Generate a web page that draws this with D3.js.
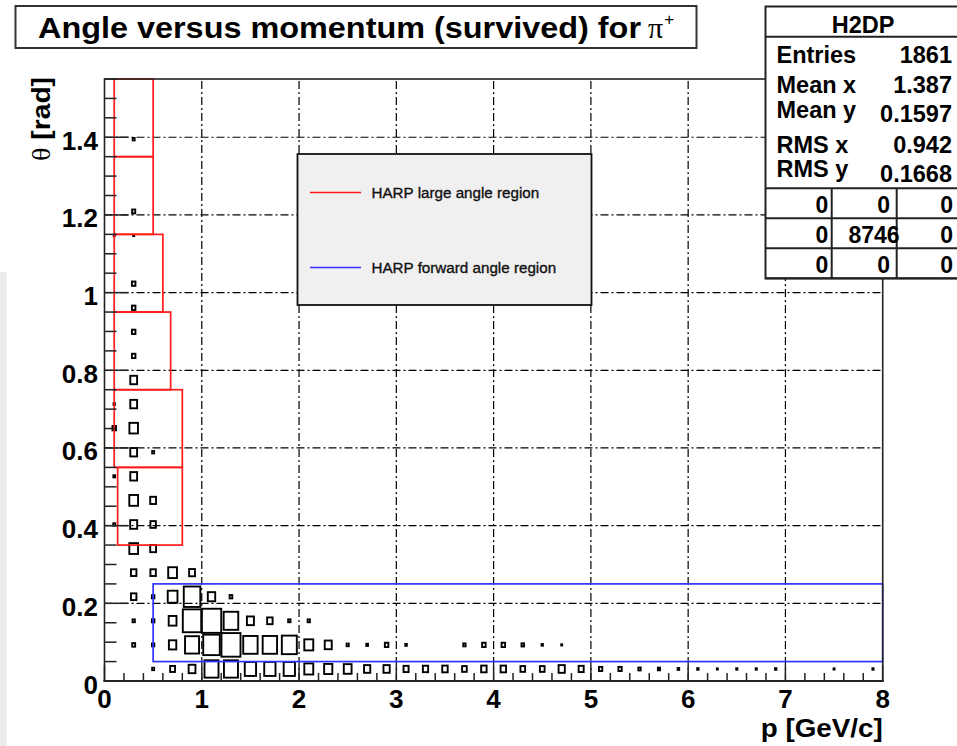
<!DOCTYPE html>
<html>
<head>
<meta charset="utf-8">
<script src="https://cdn.jsdelivr.net/npm/d3@7"></script>
<style>
  body { margin: 0; background: #ffffff; }
  svg { display: block; font-family: "Liberation Sans", Arial, Helvetica, sans-serif; }
</style>
</head>
<body>
<svg id="chart"></svg>
<script>
//DATA//
var xTicks = [0, 1, 2, 3, 4, 5, 6, 7, 8];
var yTicks = [0, 0.2, 0.4, 0.6, 0.8, 1.0, 1.2, 1.4];
var yTickLabels = ["0", "0.2", "0.4", "0.6", "0.8", "1", "1.2", "1.4"];
var pBinWidth = 0.2;
var thetaBinWidth = 0.062;

// [p bin centre, theta bin centre, content]
var cells = [
  // theta 0.031
  [0.5, 0.031, 10], [0.7, 0.031, 25], [0.9, 0.031, 35], [1.1, 0.031, 72], [1.3, 0.031, 72],
  [1.5, 0.031, 58], [1.7, 0.031, 58], [1.9, 0.031, 58], [2.1, 0.031, 46], [2.3, 0.031, 42],
  [2.5, 0.031, 40], [2.7, 0.031, 32], [2.9, 0.031, 32], [3.1, 0.031, 26], [3.3, 0.031, 27],
  [3.5, 0.031, 28], [3.7, 0.031, 24], [3.9, 0.031, 28], [4.1, 0.031, 28], [4.3, 0.031, 24],
  [4.5, 0.031, 24], [4.7, 0.031, 32], [4.9, 0.031, 26], [5.1, 0.031, 17], [5.3, 0.031, 17],
  [5.5, 0.031, 12], [5.7, 0.031, 11], [5.9, 0.031, 8], [6.1, 0.031, 7], [6.3, 0.031, 5],
  [6.5, 0.031, 6], [6.7, 0.031, 6], [6.9, 0.031, 7], [7.5, 0.031, 5], [7.9, 0.031, 6],
  // theta 0.093
  [0.3, 0.093, 15], [0.5, 0.093, 12], [0.7, 0.093, 38], [0.9, 0.093, 72], [1.1, 0.093, 85],
  [1.3, 0.093, 98], [1.5, 0.093, 74], [1.7, 0.093, 74], [1.9, 0.093, 77], [2.1, 0.093, 46],
  [2.3, 0.093, 36], [2.5, 0.093, 11], [2.7, 0.093, 9], [2.9, 0.093, 18], [3.1, 0.093, 8],
  [3.7, 0.093, 12], [3.9, 0.093, 18], [4.1, 0.093, 18], [4.3, 0.093, 13], [4.5, 0.093, 7],
  [4.7, 0.093, 5],
  // theta 0.155
  [0.3, 0.155, 12], [0.5, 0.155, 13], [0.7, 0.155, 40], [0.9, 0.155, 95], [1.1, 0.155, 100],
  [1.3, 0.155, 75], [1.5, 0.155, 36], [1.7, 0.155, 28], [1.9, 0.155, 12], [2.1, 0.155, 12],
  // theta 0.217
  [0.3, 0.217, 28], [0.5, 0.217, 13], [0.7, 0.217, 50], [0.9, 0.217, 85], [1.1, 0.217, 38],
  [1.3, 0.217, 14],
  // theta 0.279
  [0.3, 0.279, 28], [0.5, 0.279, 28], [0.7, 0.279, 45], [0.9, 0.279, 30],
  // theta 0.341 .. 0.775
  [0.3, 0.341, 45], [0.5, 0.341, 30],
  [0.1, 0.403, 10], [0.3, 0.403, 36], [0.5, 0.403, 28],
  [0.3, 0.465, 45], [0.5, 0.465, 30],
  [0.1, 0.527, 9], [0.3, 0.527, 35],
  [0.3, 0.589, 35], [0.5, 0.589, 10],
  [0.1, 0.651, 18], [0.3, 0.651, 44],
  [0.1, 0.713, 7], [0.3, 0.713, 35],
  [0.3, 0.775, 35],
  // theta 0.837 .. 1.395
  [0.3, 0.837, 18], [0.3, 0.899, 18], [0.3, 0.961, 18], [0.3, 1.023, 18],
  [0.1, 1.147, 5], [0.3, 1.147, 5], [0.3, 1.209, 16], [0.3, 1.395, 10]
];

// HARP large angle region: [pMin, pMax, thetaMin, thetaMax]
var largeAngleRegions = [
  [0.1, 0.5, 1.35, 1.55],
  [0.1, 0.5, 1.15, 1.35],
  [0.1, 0.6, 0.95, 1.15],
  [0.1, 0.68, 0.75, 0.95],
  [0.1, 0.8, 0.55, 0.75],
  [0.135, 0.8, 0.35, 0.55]
];
// HARP forward angle region
var forwardRegion = [0.5, 8, 0.05, 0.25];

var legendNames = ["HARP large angle region", "HARP forward angle region"];
var legendColors = ["#ff1a1a", "#3333ff"];

var statsLabels = ["Entries", "Mean x", "Mean y", "RMS x", "RMS y"];
var statsValues = ["1861", "1.387", "0.1597", "0.942", "0.1668"];
var overflowTable = [
  ["0", "0", "0"],
  ["0", "8746", "0"],
  ["0", "0", "0"]
];

//CHART//
var screen = { width: 957, height: 746 };
var svg = d3.select("#chart").attr("width", screen.width).attr("height", screen.height);

// light strip on the left edge of the reference picture
svg.append("rect").attr("x", 0).attr("y", 272).attr("width", 7).attr("height", 474).attr("fill", "#ebebeb");

var xScale = d3.scaleLinear().domain([0, 8]).range([104.5, 882.7]);
var yScale = d3.scaleLinear().domain([0, 1.55]).range([681, 79]);

var gridDash = "8,3,2,3";

// grid
var grid = svg.append("g").attr("class", "grid");
grid.selectAll("line.gx")
  .data(xTicks.slice(1, -1))
  .enter().append("line")
  .attr("x1", function (d) { return xScale(d); })
  .attr("x2", function (d) { return xScale(d); })
  .attr("y1", yScale(0)).attr("y2", yScale(1.55))
  .attr("stroke", "#000").attr("stroke-width", 1.2)
  .attr("stroke-dasharray", gridDash);
grid.selectAll("line.gy")
  .data(yTicks.slice(1))
  .enter().append("line")
  .attr("y1", function (d) { return yScale(d); })
  .attr("y2", function (d) { return yScale(d); })
  .attr("x1", xScale(0)).attr("x2", xScale(8))
  .attr("stroke", "#000").attr("stroke-width", 1.2)
  .attr("stroke-dasharray", gridDash);

// boxes
var maxCount = d3.max(cells, function (c) { return c[2]; });
var binW = xScale(pBinWidth) - xScale(0);
var binH = yScale(0) - yScale(thetaBinWidth);
svg.append("g").selectAll("rect")
  .data(cells)
  .enter().append("rect")
  .attr("x", function (c) { return xScale(c[0]) - 0.5 * binW * c[2] / maxCount; })
  .attr("y", function (c) { return yScale(c[1]) - 0.5 * binH * c[2] / maxCount; })
  .attr("width", function (c) { return binW * c[2] / maxCount; })
  .attr("height", function (c) { return binH * c[2] / maxCount; })
  .attr("fill", "none").attr("stroke", "#000").attr("stroke-width", 1.9);

// regions
svg.append("g").selectAll("rect")
  .data(largeAngleRegions)
  .enter().append("rect")
  .attr("x", function (r) { return xScale(r[0]); })
  .attr("y", function (r) { return yScale(r[3]); })
  .attr("width", function (r) { return xScale(r[1]) - xScale(r[0]); })
  .attr("height", function (r) { return yScale(r[2]) - yScale(r[3]); })
  .attr("fill", "none").attr("stroke", legendColors[0]).attr("stroke-width", 1.7);
svg.append("rect")
  .attr("x", xScale(forwardRegion[0]))
  .attr("y", yScale(forwardRegion[3]))
  .attr("width", xScale(forwardRegion[1]) - xScale(forwardRegion[0]))
  .attr("height", yScale(forwardRegion[2]) - yScale(forwardRegion[3]))
  .attr("fill", "none").attr("stroke", legendColors[1]).attr("stroke-width", 1.7);

// frame
svg.append("rect")
  .attr("x", xScale(0)).attr("y", yScale(1.55))
  .attr("width", xScale(8) - xScale(0)).attr("height", yScale(0) - yScale(1.55))
  .attr("fill", "none").attr("stroke", "#222").attr("stroke-width", 1.6);
svg.append("line")
  .attr("x1", xScale(0) - 1).attr("x2", xScale(8) + 1)
  .attr("y1", yScale(0)).attr("y2", yScale(0))
  .attr("stroke", "#222").attr("stroke-width", 2.2);

// ticks
var xMinor = d3.range(0, 8.001, 0.2);
var yMinor = d3.range(0, 1.5501, 0.05);
svg.append("g").selectAll("line")
  .data(xMinor)
  .enter().append("line")
  .attr("x1", function (d) { return xScale(d); })
  .attr("x2", function (d) { return xScale(d); })
  .attr("y1", yScale(0))
  .attr("y2", function (d, i) { return yScale(0) - (i % 5 === 0 ? 16 : 8); })
  .attr("stroke", "#222").attr("stroke-width", 1.5);
svg.append("g").selectAll("line")
  .data(yMinor)
  .enter().append("line")
  .attr("y1", function (d) { return yScale(d); })
  .attr("y2", function (d) { return yScale(d); })
  .attr("x1", xScale(0))
  .attr("x2", function (d, i) { return xScale(0) + (i % 4 === 0 ? 24 : 12); })
  .attr("stroke", "#222").attr("stroke-width", 1.5);

// tick labels
svg.append("g").selectAll("text")
  .data(xTicks)
  .enter().append("text")
  .text(function (d) { return d; })
  .attr("x", function (d) { return xScale(d); })
  .attr("y", 708)
  .attr("text-anchor", "middle")
  .attr("font-weight", "bold").attr("font-size", 26);
svg.append("g").selectAll("text")
  .data(yTicks)
  .enter().append("text")
  .text(function (d, i) { return yTickLabels[i]; })
  .attr("x", 98)
  .attr("y", function (d) { return yScale(d) + 12.5; })
  .attr("text-anchor", "end")
  .attr("font-weight", "bold").attr("font-size", 26);

// axis titles
svg.append("text")
  .text("p [GeV/c]")
  .attr("x", 882.7).attr("y", 737)
  .attr("text-anchor", "end")
  .attr("textLength", 122).attr("lengthAdjust", "spacingAndGlyphs")
  .attr("font-weight", "bold").attr("font-size", 25);
var yt = svg.append("text")
  .attr("transform", "translate(50,77) rotate(-90)")
  .attr("text-anchor", "end")
  .attr("textLength", 84).attr("lengthAdjust", "spacingAndGlyphs")
  .attr("font-weight", "bold").attr("font-size", 25);
yt.append("tspan").text("θ").attr("font-family", "Liberation Serif, serif").attr("font-weight", "normal");
yt.append("tspan").text(" [rad]");

// legend
var legend = svg.append("g");
legend.append("rect")
  .attr("x", 297.5).attr("y", 154).attr("width", 294).attr("height", 151)
  .attr("fill", "#f0f0f0").attr("stroke", "#111").attr("stroke-width", 1.8);
legendNames.forEach(function (name, i) {
  var ly = 192.5 + i * 75;
  legend.append("line")
    .attr("x1", 310).attr("x2", 361).attr("y1", ly).attr("y2", ly)
    .attr("stroke", legendColors[i]).attr("stroke-width", 1.6);
  legend.append("text")
    .text(name)
    .attr("x", 371.5).attr("y", ly + 5.5)
    .attr("font-size", 15.2).attr("fill", "#111")
    .attr("stroke", "#111").attr("stroke-width", 0.35);
});

// stats box
var stats = svg.append("g");
var sx0 = 765.5, sx1 = 962, sy0 = 6.5, sy1 = 278.5;
stats.append("rect")
  .attr("x", sx0).attr("y", sy0).attr("width", sx1 - sx0).attr("height", sy1 - sy0)
  .attr("fill", "#fff").attr("stroke", "#222").attr("stroke-width", 2);
stats.append("line").attr("x1", sx0).attr("x2", sx1).attr("y1", 36.7).attr("y2", 36.7)
  .attr("stroke", "#222").attr("stroke-width", 2);
stats.append("text").text("H2DP")
  .attr("x", 863).attr("y", 33).attr("text-anchor", "middle")
  .attr("font-weight", "bold").attr("font-size", 23.5);
var labelY = [62.7, 93.3, 117.5, 152.7, 176.7];
var valueY = [62.7, 93.3, 121.7, 152.7, 181.7];
statsLabels.forEach(function (lab, i) {
  stats.append("text").text(lab)
    .attr("x", 776.5).attr("y", labelY[i])
    .attr("font-weight", "bold").attr("font-size", 23.5);
  stats.append("text").text(statsValues[i])
    .attr("x", 952).attr("y", valueY[i]).attr("text-anchor", "end")
    .attr("font-weight", "bold").attr("font-size", 23.5);
});
var tableTop = 188.3, rowH = 30;
var colLines = [831.7, 896.7];
var colRight = [828.3, 890, 953];
[0, 1, 2, 3].forEach(function (k) {
  stats.append("line").attr("x1", sx0).attr("x2", sx1)
    .attr("y1", tableTop + k * rowH).attr("y2", tableTop + k * rowH)
    .attr("stroke", "#222").attr("stroke-width", 2);
});
colLines.forEach(function (cx) {
  stats.append("line").attr("x1", cx).attr("x2", cx)
    .attr("y1", tableTop).attr("y2", sy1)
    .attr("stroke", "#222").attr("stroke-width", 2);
});
overflowTable.forEach(function (row, r) {
  row.forEach(function (v, c) {
    stats.append("text").text(v)
      .attr("x", colRight[c] + (v.length - 1) * 3.2)
      .attr("y", tableTop + r * rowH + 25)
      .attr("text-anchor", "end")
      .attr("font-weight", "bold").attr("font-size", 23);
  });
});

// title
svg.append("rect")
  .attr("x", 15.5).attr("y", 6).attr("width", 681).attr("height", 42)
  .attr("fill", "#fff").attr("stroke", "#333").attr("stroke-width", 2);
svg.append("text")
  .text("Angle versus momentum (survived) for")
  .attr("x", 38).attr("y", 38)
  .attr("textLength", 603).attr("lengthAdjust", "spacingAndGlyphs")
  .attr("font-weight", "bold").attr("font-size", 29);
var pi = svg.append("text")
  .attr("x", 648).attr("y", 38)
  .attr("font-family", "Liberation Serif, serif").attr("font-size", 30);
pi.append("tspan").text("π");
pi.append("tspan").text("+").attr("font-size", 17).attr("dy", -13).attr("dx", 1)
  .attr("font-family", "Liberation Sans, Arial, sans-serif");
</script>
</body>
</html>
